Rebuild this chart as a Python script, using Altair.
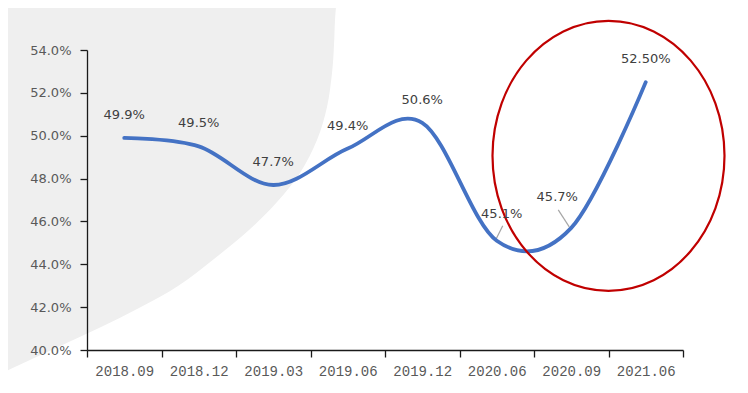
import altair as alt
import pandas as pd

periods = ["2018.09", "2018.12", "2019.03", "2019.06", "2019.12", "2020.06", "2020.09", "2021.06"]
ratios = [0.499, 0.495, 0.477, 0.494, 0.506, 0.451, 0.457, 0.525]
labels = ["49.9%", "49.5%", "47.7%", "49.4%", "50.6%", "45.1%", "45.7%", "52.50%"]
y_ticks = [0.40, 0.42, 0.44, 0.46, 0.48, 0.50, 0.52, 0.54]

# highlighted region (red ellipse) anchored between the last two periods
highlight_period = ["2021.06"]
highlight_ratio = [0.4906]

# decorative grey backdrop outline (pixels relative to the plot's top-left corner)
bg_edge_x = [250, 248, 247, 245, 240, 230, 213, 190, 162, 127, 91, 52, 12, -29, -70, -111]
bg_edge_y = [-55, -30, -5, 23, 57, 90, 123, 152, 180, 209, 236, 258, 278, 297, 316, 335]

df = pd.DataFrame({"period": periods, "ratio": ratios, "label": labels})
hl = pd.DataFrame({"period": highlight_period, "ratio": highlight_ratio})
bg = pd.DataFrame({"k": ["bg"]})


def smooth_path(xs, ys):
    pts = list(zip(xs, ys))
    d = f"M {pts[0][0]} {pts[0][1]}"
    n = len(pts)
    for i in range(n - 1):
        p0 = pts[max(i - 1, 0)]
        p1 = pts[i]
        p2 = pts[i + 1]
        p3 = pts[min(i + 2, n - 1)]
        c1 = (p1[0] + (p2[0] - p0[0]) / 6, p1[1] + (p2[1] - p0[1]) / 6)
        c2 = (p2[0] - (p3[0] - p1[0]) / 6, p2[1] - (p3[1] - p1[1]) / 6)
        d += f" C {c1[0]:.1f} {c1[1]:.1f} {c2[0]:.1f} {c2[1]:.1f} {p2[0]} {p2[1]}"
    d += f" L {xs[-1] - 40} {ys[-1]} L {xs[-1] - 40} {ys[0]} Z"
    return d


xscale = alt.Scale(type="band", domain=periods, paddingInner=0, paddingOuter=0)
yscale = alt.Scale(domain=[0.40, 0.54], nice=False, zero=False)

x_axis = alt.Axis(title=None, labelAngle=0, tickBand="extent", tickSize=7, labelPadding=7,
                  labelFont="Liberation Mono", labelFontSize=14, labelColor="#595959",
                  domainColor="#1a1a1a", tickColor="#1a1a1a", domainWidth=1.3, tickWidth=1.3,
                  grid=False, zindex=1)
y_axis = alt.Axis(title=None, format=".1%", values=y_ticks, tickSize=7, labelPadding=9,
                  labelFont="DejaVu Sans", labelFontSize=13, labelColor="#595959",
                  domainColor="#1a1a1a", tickColor="#1a1a1a", domainWidth=1.3, tickWidth=1.3,
                  grid=False, zindex=1)

X = alt.X("period:N", sort=periods, scale=xscale, axis=x_axis)
Y = alt.Y("ratio:Q", scale=yscale, axis=y_axis)

background = alt.Chart(bg).mark_point(
    shape=smooth_path(bg_edge_x, bg_edge_y), size=4, filled=True, fill="#efefef",
    strokeWidth=0, opacity=1
).encode(x=alt.value(0), y=alt.value(0))

ell_path = ("M 116 0 C 116 74.56 64.07 135 0 135 C -64.07 135 -116 74.56 -116 0 "
            "C -116 -74.56 -64.07 -135 0 -135 C 64.07 -135 116 -74.56 116 0 Z")
ellipse = alt.Chart(hl).mark_point(
    shape=ell_path, size=4, filled=False, stroke="#c00000", strokeWidth=2.2, opacity=1
).encode(x=alt.X("period:N", sort=periods, scale=xscale, axis=x_axis, bandPosition=0), y=Y)

line = alt.Chart(df).mark_line(
    interpolate="cardinal", tension=0, color="#4472c4", strokeWidth=3.8, strokeCap="round"
).encode(x=X, y=Y)

text_style = dict(font="DejaVu Sans", fontSize=13, color="#404040")
normal = alt.Chart(df).transform_filter(
    alt.FieldOneOfPredicate(field="period", oneOf=["2018.09", "2018.12", "2019.03", "2019.06", "2019.12", "2021.06"])
).mark_text(dy=-23, **text_style).encode(x=X, y=Y, text="label:N")

lab_a = alt.Chart(df).transform_filter(alt.datum.period == "2020.06").mark_text(
    dx=5, dy=-27, **text_style).encode(x=X, y=Y, text="label:N")
lab_b = alt.Chart(df).transform_filter(alt.datum.period == "2020.09").mark_text(
    dx=-14, dy=-31, **text_style).encode(x=X, y=Y, text="label:N")

lead_a = alt.Chart(df).transform_filter(alt.datum.period == "2020.06").mark_point(
    shape="M -1 -1 L 6 -15", size=4, filled=False, stroke="#a6a6a6", strokeWidth=1.2, opacity=1
).encode(x=X, y=Y)
lead_b = alt.Chart(df).transform_filter(alt.datum.period == "2020.09").mark_point(
    shape="M -13 -18 L -2 -1", size=4, filled=False, stroke="#a6a6a6", strokeWidth=1.2, opacity=1
).encode(x=X, y=Y)

chart = alt.layer(background, lead_a, lead_b, line, ellipse, normal, lab_a, lab_b).properties(
    width=596, height=300,
    autosize=alt.AutoSizeParams(type="none"),
    padding={"left": 79, "top": 42, "right": 57, "bottom": 35},
    background="white",
).configure_view(stroke=None)

chart.save("out.html", embed_options={"renderer": "svg", "actions": False})
